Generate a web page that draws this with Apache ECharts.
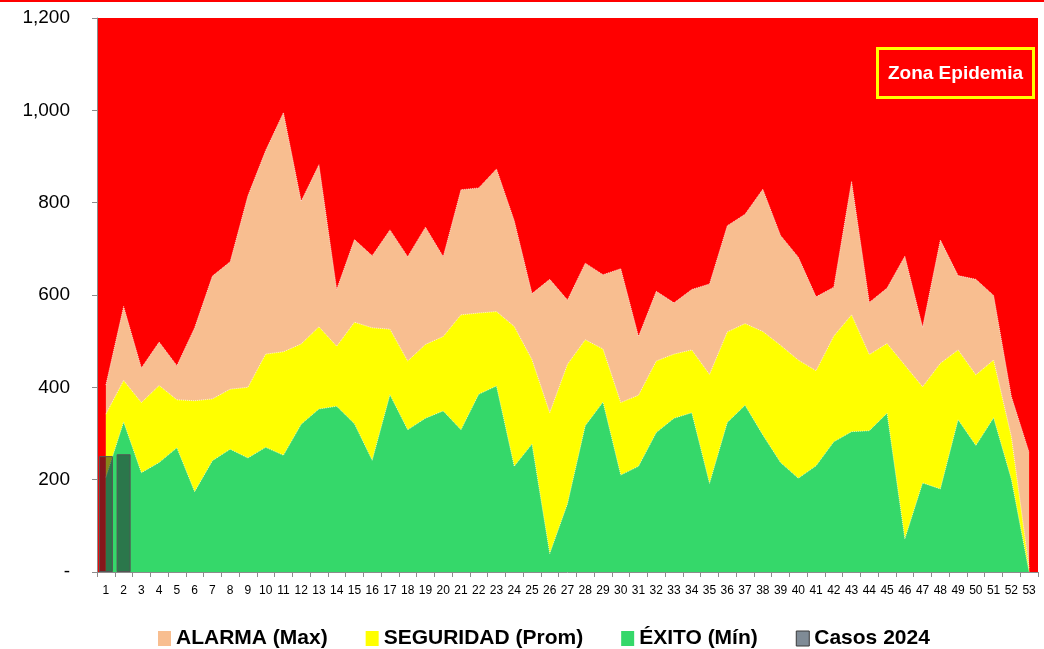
<!DOCTYPE html>
<html>
<head>
<meta charset="utf-8">
<script src="https://cdn.jsdelivr.net/npm/echarts@6/dist/echarts.min.js"></script>
<style>
  html, body { margin: 0; padding: 0; background: #fff; }
  #chart-panel { width: 1044px; height: 649px; }
</style>
</head>
<body>
<div id="chart-panel"></div>
<script>
// semanas epidemiologicas 1..53
var semanas = [];
for (var i = 1; i <= 53; i++) semanas.push(String(i));

var alarma = [405, 575, 442, 498, 447, 529, 641, 672, 815, 913, 995, 803, 882, 612, 720, 685, 741, 683, 747, 683,
  828, 832, 873, 761, 603, 634, 589, 669, 644, 657, 510, 608, 583, 612, 624, 750, 775, 829, 729, 682,
  596, 617, 846, 584, 615, 684, 530, 719, 642, 634, 599, 380, 259];

var seguridad = [342, 415, 367, 404, 373, 371, 375, 396, 400, 472, 477, 494, 531, 489, 541, 529, 526, 457, 493, 510,
  557, 561, 564, 532, 460, 345, 450, 503, 483, 367, 383, 457, 472, 481, 428, 520, 538, 521, 491, 459,
  436, 511, 557, 471, 495, 448, 401, 452, 481, 427, 459, 293, 8];

var exito = [205, 325, 215, 237, 269, 174, 241, 266, 247, 270, 253, 320, 353, 359, 321, 242, 384, 308, 333, 349,
  308, 385, 403, 229, 277, 40, 148, 317, 368, 210, 229, 302, 333, 345, 192, 324, 361, 297, 237, 203,
  230, 282, 304, 306, 344, 72, 193, 180, 330, 274, 334, 201, 0];

var casos2024 = [251, 255];

var yTicks = { min: 0, max: 1200, step: 200 };

function areaSerie (name, data, color) {
  return {
    name: name,
    type: 'line',
    data: data,
    symbol: 'none',
    smooth: false,
    lineStyle: { color: '#ffffff', width: 1, type: 'dotted', opacity: 0.7 },
    itemStyle: { color: color },
    areaStyle: { color: color, opacity: 1 },
    emphasis: { disabled: true }
  };
}

var chart = echarts.init(document.getElementById('chart-panel'));

var option = {
  backgroundColor: '#ffffff',
  animation: false,
  grid: {
    left: 97, right: 6, top: 18, bottom: 77,
    show: true, backgroundColor: '#FF0000', borderWidth: 0
  },
  legend: {
    top: 623,
    left: 153,
    itemWidth: 13,
    itemHeight: 15,
    itemGap: 38,
    icon: 'rect',
    textStyle: {
      fontFamily: '"Liberation Sans", sans-serif',
      fontWeight: 'bold', fontSize: 21, color: '#000'
    },
    data: [
      { name: 'ALARMA (Max)' },
      { name: 'SEGURIDAD (Prom)' },
      { name: 'ÉXITO (Mín)' },
      { name: 'Casos 2024', itemStyle: { color: '#7F8B96', borderColor: '#3a3a3a', borderWidth: 1 } }
    ]
  },
  xAxis: {
    type: 'category',
    data: semanas,
    boundaryGap: true,
    axisLine: { lineStyle: { color: '#8c8c8c', width: 1 } },
    axisTick: { show: true, length: 5, lineStyle: { color: '#8c8c8c' } },
    axisLabel: {
      interval: 0, margin: 13,
      fontFamily: '"Liberation Sans", sans-serif', fontSize: 12, color: '#000'
    }
  },
  yAxis: {
    type: 'value',
    min: yTicks.min, max: yTicks.max, interval: yTicks.step,
    axisLine: { show: true, lineStyle: { color: '#8c8c8c' } },
    axisTick: { show: true, length: 5, lineStyle: { color: '#8c8c8c' } },
    splitLine: { show: false },
    axisLabel: {
      margin: 27,
      fontFamily: '"Liberation Sans", sans-serif', fontSize: 19, color: '#000',
      formatter: function (v) { return v === 0 ? '-' : v.toLocaleString('en-US'); }
    }
  },
  series: [
    areaSerie('ALARMA (Max)', alarma, '#F8BE90'),
    areaSerie('SEGURIDAD (Prom)', seguridad, '#FFFF00'),
    areaSerie('ÉXITO (Mín)', exito, '#35D86A'),
    {
      name: 'Casos 2024',
      type: 'bar',
      data: casos2024,
      barWidth: 14,
      z: 5,
      itemStyle: { color: 'rgba(35, 40, 50, 0.55)', borderColor: '#555', borderWidth: 1 },
      emphasis: { disabled: true }
    }
  ],
  graphic: [
    { type: 'rect', left: 0, top: 0, shape: { width: 1044, height: 2 }, style: { fill: '#FF0000' } },
    {
      type: 'group', left: 875, top: 46, z: 10,
      children: [
        { type: 'rect', shape: { x: 0, y: 0, width: 156, height: 49 }, style: { fill: 'none', stroke: '#FFFF00', lineWidth: 3 } },
        { type: 'text', x: 78, y: 25, style: {
          text: 'Zona Epidemia', fill: '#fff', fontSize: 19, fontWeight: 'bold',
          fontFamily: '"Liberation Sans", sans-serif', align: 'center', verticalAlign: 'middle'
        } }
      ]
    }
  ]
};

chart.setOption(option);
</script>
</body>
</html>
